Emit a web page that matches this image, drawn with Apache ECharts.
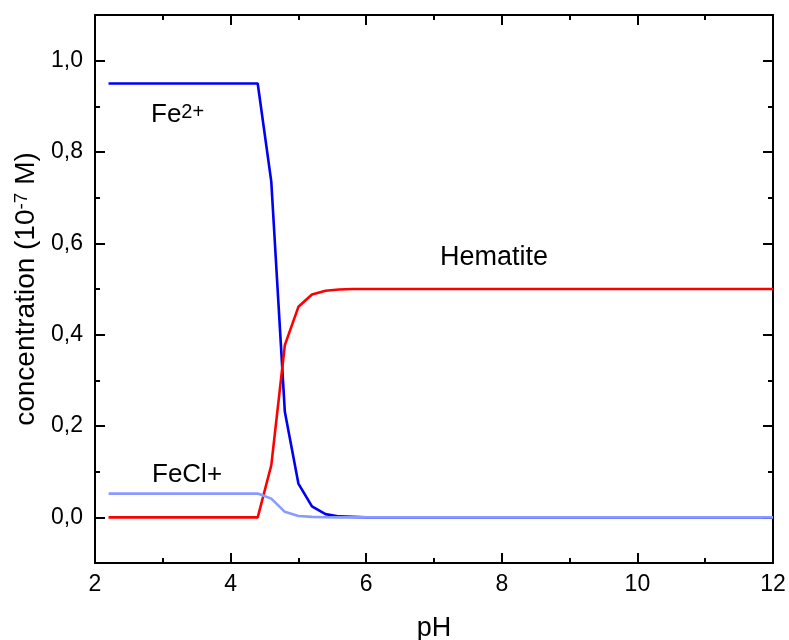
<!DOCTYPE html>
<html>
<head>
<meta charset="utf-8">
<script src="https://cdn.jsdelivr.net/npm/echarts@6/dist/echarts.min.js"></script>
<style>html,body{margin:0;padding:0;background:#fff;}#c{width:789px;height:640px;}</style>
</head>
<body>
<div id="c"></div>
<script>
// ---- data ----
var pH        = [2.2, 4.4, 4.6, 4.8, 5.0, 5.2, 5.4, 5.6, 5.8, 6.0, 6.2, 12.0];
var fe2       = [0.95, 0.95, 0.735, 0.231, 0.074, 0.024, 0.007, 0.002, 0.001, 0.0, 0.0, 0.0];
var hematite  = [0.0, 0.0, 0.114, 0.377, 0.461, 0.488, 0.496, 0.499, 0.5, 0.5, 0.5, 0.5];
var fecl      = [0.052, 0.052, 0.041, 0.012, 0.003, 0.001, 0.0003, 0.0, 0.0, 0.0, 0.0, 0.0];
var yMajorTicks = [0.0, 0.2, 0.4, 0.6, 0.8, 1.0];
var yMinorTicks = [0.1, 0.3, 0.5, 0.7, 0.9];
var xTitle = 'pH';

function pairs(xs, ys){ return xs.map(function(x,i){ return [x, ys[i]]; }); }
function yLabel(v){ return v.toFixed(1).replace('.', ','); }

var FONT = '"Liberation Sans", Arial, sans-serif';
var chart = echarts.init(document.getElementById('c'), null, {renderer:'canvas'});

function yAx(pos, ticks, len, labels, extra){
  var a = {
    type:'value', position:pos, min:-0.1, max:1.1,
    axisLine:{show:true, onZero:false, lineStyle:{color:'#000', width:2}},
    axisTick:{show:true, inside:true, length:len, lineStyle:{color:'#000', width:2}, customValues:ticks},
    axisLabel:{show:labels, customValues:ticks, formatter:yLabel, color:'#000', fontSize:23, fontFamily:FONT, margin:12},
    splitLine:{show:false}
  };
  if (extra) for (var k in extra) a[k] = extra[k];
  return a;
}
function xAx(pos, labels, extra){
  var a = {
    type:'value', position:pos, min:2, max:12, interval:2,
    axisLine:{show:true, onZero:false, lineStyle:{color:'#000', width:2}},
    axisTick:{show:true, inside:true, length:10, lineStyle:{color:'#000', width:2}},
    minorTick:{show:true, splitNumber:2, length:5, lineStyle:{color:'#000', width:2}},
    axisLabel:{show:labels, color:'#000', fontSize:23, fontFamily:FONT, margin:10},
    splitLine:{show:false}
  };
  if (extra) for (var k in extra) a[k] = extra[k];
  return a;
}

var option = {
  backgroundColor:'#fff',
  animation:false,
  grid:{left:95, right:16, top:15, bottom:77, containLabel:false, outerBoundsMode:'none'},
  xAxis:[
    xAx('bottom', true, {name:xTitle, nameLocation:'middle', nameGap:52,
      nameTextStyle:{color:'#000', fontSize:27, fontFamily:FONT}}),
    xAx('top', false)
  ],
  yAxis:[
    yAx('left', yMajorTicks, 10, true, {
      name:'{a|concentration (10}{s|-7}{a| M)}', nameLocation:'middle', nameGap:55,
      nameTextStyle:{color:'#000', fontFamily:FONT, rich:{
        a:{fontSize:28, lineHeight:28, fontFamily:FONT, color:'#000'},
        s:{fontSize:19, lineHeight:21, verticalAlign:'top', fontFamily:FONT, color:'#000'}
      }}
    }),
    yAx('left', yMinorTicks, 5, false),
    yAx('right', yMajorTicks, 10, false),
    yAx('right', yMinorTicks, 5, false)
  ],
  series:[
    {name:'Fe2+', type:'line', data:pairs(pH, fe2), showSymbol:false, symbol:'none',
      lineStyle:{color:'#0000f2', width:2.6}, itemStyle:{color:'#0000f2'}},
    {name:'Hematite', type:'line', data:pairs(pH, hematite), showSymbol:false, symbol:'none',
      lineStyle:{color:'#ff0000', width:2.6}, itemStyle:{color:'#ff0000'}},
    {name:'FeCl+', type:'line', data:pairs(pH, fecl), showSymbol:false, symbol:'none',
      lineStyle:{color:'#8a9bff', width:2.6}, itemStyle:{color:'#8a9bff'}}
  ],
  graphic:[
    {type:'text', left:151, top:102, style:{
      text:'{a|Fe}{s|2+}', fill:'#000',
      rich:{
        a:{fontSize:26, lineHeight:26, fontFamily:FONT, fill:'#000', color:'#000'},
        s:{fontSize:20, lineHeight:21, verticalAlign:'top', fontFamily:FONT, fill:'#000', color:'#000'}
      }}},
    {type:'text', x:440, y:258, style:{text:'Hematite', fill:'#000', font:'27px "Liberation Sans", Arial, sans-serif', align:'left', verticalAlign:'middle'}},
    {type:'text', x:152, y:475, style:{text:'FeCl+', fill:'#000', font:'26px "Liberation Sans", Arial, sans-serif', align:'left', verticalAlign:'middle'}}
  ]
};
chart.setOption(option);
</script>
</body>
</html>
